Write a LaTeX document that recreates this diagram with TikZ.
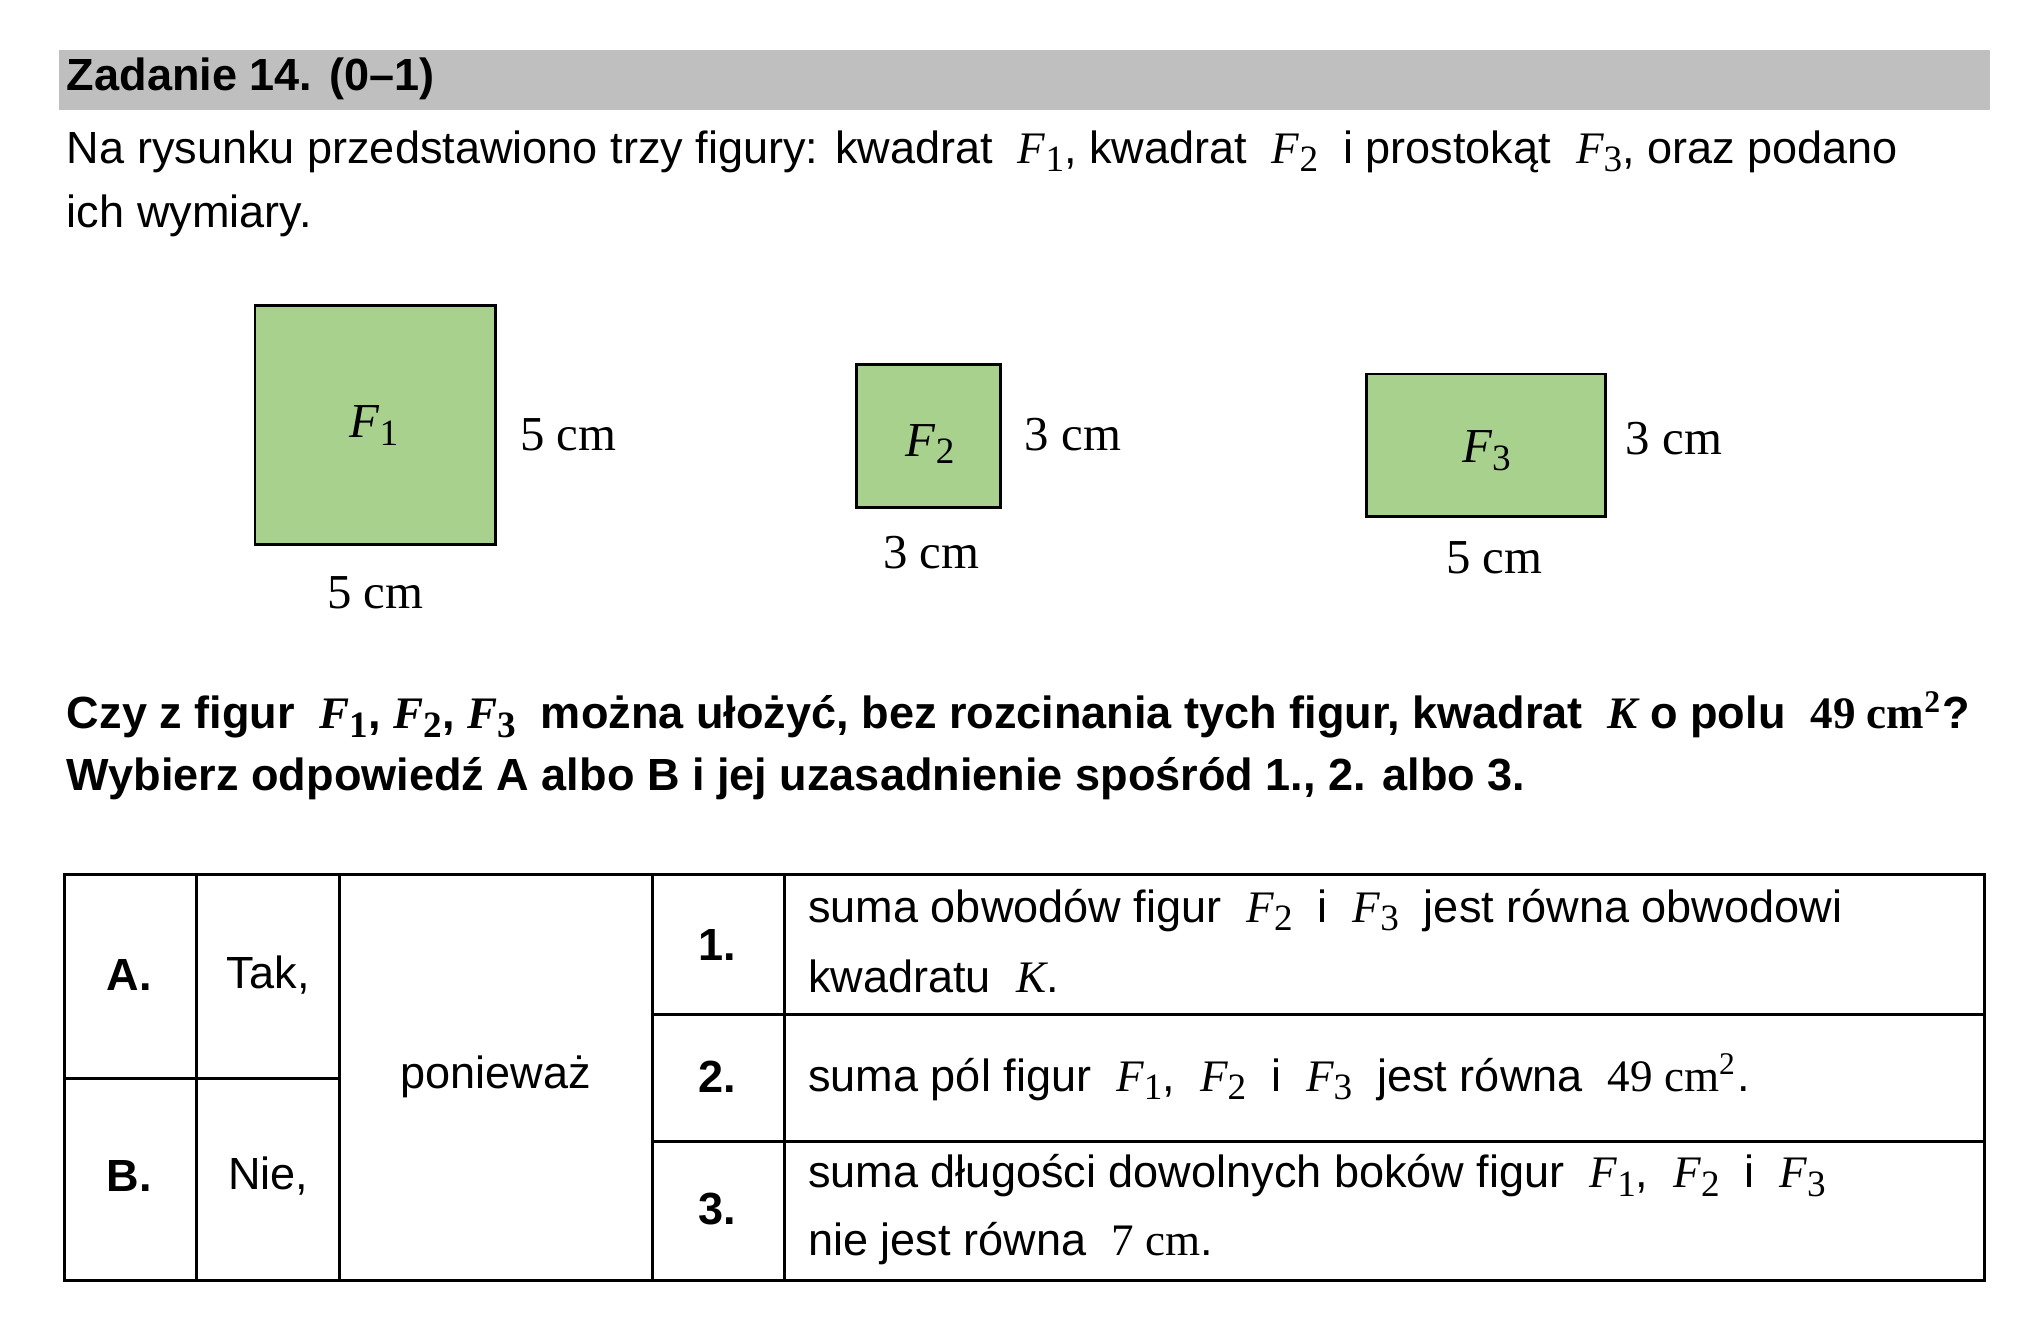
\documentclass[tikz,border=0pt]{standalone}
\usepackage{fontspec}
\setmainfont{Liberation Sans}
\newfontfamily\mser{Liberation Serif}
\newcommand{\Fi}[1]{{\mser\itshape F}\raisebox{-0.35ex}{\mser\footnotesize #1}}
\begin{document}
\begin{tikzpicture}[x=0.01cm,y=-0.01cm,
  txt/.style={anchor=west,inner sep=0,font=\fontsize{9.7}{11}\selectfont},
  fig/.style={draw,line width=0.6pt,fill=figgreen},
  dim/.style={inner sep=0,font=\fontsize{10.5}{12}\mser},
  cell/.style={inner sep=0,font=\fontsize{9.7}{11}\selectfont}]
\definecolor{figgreen}{HTML}{A9D18E}
\useasboundingbox (0,0) rectangle (1544,1002);
\fill[gray!50] (45,38) rectangle (1506,83);
\node[txt,font=\fontsize{9.7}{11}\selectfont\bfseries] (title) at (50,60) {Zadanie 14. (0–1)};
\node[txt] (l1) at (50,115) {Na rysunku przedstawiono trzy figury: kwadrat \ \Fi1, kwadrat \ \Fi2 \ i prostokąt \ \Fi3, oraz podano};
\node[txt] (l2) at (50,163) {ich wymiary.};
\draw[fig] (193,231) rectangle (375,412);
\node[dim] (f1) at (283,322) {\Fi1};
\node[dim] (f1a) at (430,329) {5 cm};
\node[dim] (f1b) at (284,449) {5 cm};
\draw[fig] (648,276) rectangle (757,384);
\node[dim] (f2) at (704,336) {\Fi2};
\node[dim] (f2a) at (812,329) {3 cm};
\node[dim] (f2b) at (705,418) {3 cm};
\draw[fig] (1034,283) rectangle (1215,391);
\node[dim] (f3) at (1125,341) {\Fi3};
\node[dim] (f3a) at (1267,332) {3 cm};
\node[dim] (f3b) at (1131,422) {5 cm};
\node[txt,font=\fontsize{9.7}{11}\selectfont\bfseries] (q1) at (50,541) {Czy z figur \ {\bfseries\Fi1, \Fi2, \Fi3} \ można ułożyć, bez rozcinania tych figur, kwadrat \ {\mser\itshape\bfseries K} o polu \ {\mser 49 cm\textsuperscript{2}}?};
\node[txt,font=\fontsize{9.7}{11}\selectfont\bfseries] (q2) at (50,589) {Wybierz odpowiedź A albo B i jej uzasadnienie spośród 1., 2. albo 3.};
\draw[line width=0.6pt] (49,662) rectangle (1502,969);
\foreach \x in {149,257,494,594} \draw[line width=0.6pt] (\x,662) -- (\x,969);
\draw[line width=0.6pt] (49,816) -- (257,816);
\draw[line width=0.6pt] (494,768) -- (1502,768);
\draw[line width=0.6pt] (494,864) -- (1502,864);
\node[cell,font=\fontsize{9.7}{11}\selectfont\bfseries] (A) at (98,738) {A.};
\node[cell] (tak) at (203,738) {Tak,};
\node[cell,font=\fontsize{9.7}{11}\selectfont\bfseries] (B) at (98,890) {B.};
\node[cell] (nie) at (203,890) {Nie,};
\node[cell] (pon) at (375,815) {ponieważ};
\node[cell,font=\fontsize{9.7}{11}\selectfont\bfseries] (n1) at (543,715) {1.};
\node[cell,font=\fontsize{9.7}{11}\selectfont\bfseries] (n2) at (543,815) {2.};
\node[cell,font=\fontsize{9.7}{11}\selectfont\bfseries] (n3) at (543,915) {3.};
\node[txt] (r1a) at (611,689) {suma obwodów figur \ \Fi2 \ i \ \Fi3 \ jest równa obwodowi};
\node[txt] (r1b) at (611,739) {kwadratu \ {\mser\itshape K}.};
\node[txt] (r2) at (611,815) {suma pól figur \ \Fi1, \ \Fi2 \ i \ \Fi3 \ jest równa \ {\mser 49 cm\textsuperscript{2}}.};
\node[txt] (r3a) at (611,890) {suma długości dowolnych boków figur \ \Fi1, \ \Fi2 \ i \ \Fi3};
\node[txt] (r3b) at (611,941) {nie jest równa \ {\mser 7 cm}.};
\end{tikzpicture}
\end{document}
